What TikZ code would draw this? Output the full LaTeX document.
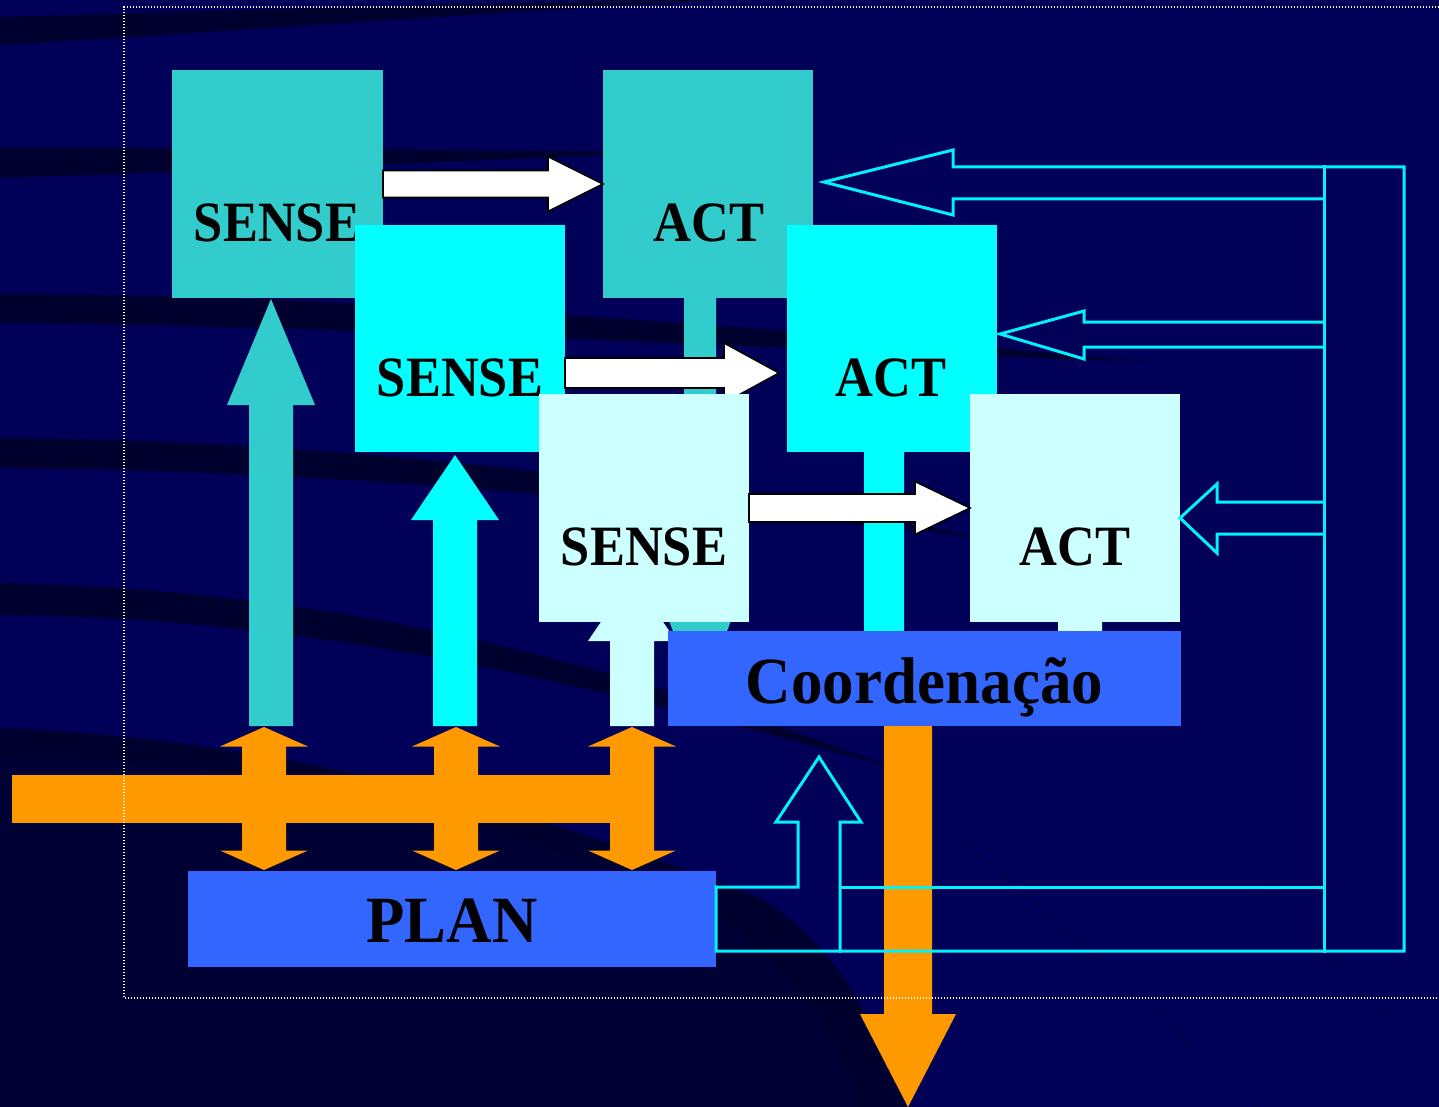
\documentclass[tikz,border=0pt]{standalone}
\usepackage{fontspec}
\setmainfont{Liberation Serif}
\usetikzlibrary{calc}

\definecolor{bgnavy}{RGB}{0,0,88}
\definecolor{streak}{RGB}{0,0,46}
\definecolor{deep}{RGB}{0,0,52}
\definecolor{tealbox}{HTML}{33CCCC}
\definecolor{cyanbox}{HTML}{00FFFF}
\definecolor{palebox}{HTML}{CCFFFF}
\definecolor{bluebox}{HTML}{3366FF}
\definecolor{orangebar}{HTML}{FF9900}
\definecolor{linkcyan}{HTML}{00F2FF}

% block arrows: [style]{start}{tip}{shaft half width}{head half width}{head length}
\newcommand\rightblock[6][]{\path[#1] let \p1=(#2), \p2=(#3) in
  (\x1,\y2+#4) -- (\x2-#6,\y2+#4) -- (\x2-#6,\y2+#5) -- (\x2,\y2)
  -- (\x2-#6,\y2-#5) -- (\x2-#6,\y2-#4) -- (\x1,\y2-#4) -- cycle;}
\newcommand\upblock[6][]{\path[#1] let \p1=(#2), \p2=(#3) in
  (\x2-#4,\y1) -- (\x2-#4,\y2-#6) -- (\x2-#5,\y2-#6) -- (\x2,\y2)
  -- (\x2+#5,\y2-#6) -- (\x2+#4,\y2-#6) -- (\x2+#4,\y1) -- cycle;}
\newcommand\downblock[6][]{\path[#1] let \p1=(#2), \p2=(#3) in
  (\x2-#4,\y1) -- (\x2-#4,\y2+#6) -- (\x2-#5,\y2+#6) -- (\x2,\y2)
  -- (\x2+#5,\y2+#6) -- (\x2+#4,\y2+#6) -- (\x2+#4,\y1) -- cycle;}
% double-headed vertical block arrow: [style]{top tip}{bottom tip}{shaft half}{head half}{head length}
\newcommand\bothblock[6][]{\path[#1] let \p1=(#2), \p2=(#3) in
  (\x1,\y1) -- (\x1+#5,\y1-#6) -- (\x1+#4,\y1-#6) -- (\x1+#4,\y2+#6)
  -- (\x1+#5,\y2+#6) -- (\x1,\y2) -- (\x1-#5,\y2+#6) -- (\x1-#4,\y2+#6)
  -- (\x1-#4,\y1-#6) -- (\x1-#5,\y1-#6) -- cycle;}

\tikzset{
  block/.style={rectangle, inner sep=0pt, outer sep=0pt, draw=none},
  senseact/.style={block, minimum width=210pt, minimum height=228pt},
  lbl/.style={anchor=base, inner sep=0pt, text=black,
    font=\bfseries\fontsize{57}{57}\selectfont},
  biglbl/.style={anchor=base, inner sep=0pt, text=black,
    font=\bfseries\fontsize{66}{66}\selectfont},
  passarrow/.style={fill=white, draw=black, line width=1.6pt, line join=miter},
  feedback/.style={draw=linkcyan, line width=3pt, line join=miter, line cap=rect},
}

\begin{document}
\begin{tikzpicture}[x=1pt, y=-1pt]
\useasboundingbox (0,0) rectangle (1439,1107);

% background with dark swept streaks
\fill[bgnavy] (0,0) rectangle (1439,1107);
\fill[deep] (0,728) .. controls (250,740) and (500,800) .. (760,900)
  .. controls (850,960) and (880,1040) .. (905,1107) -- (0,1107) -- cycle;
\fill[streak] (0,17) .. controls (250,10) and (450,4) .. (660,0) -- (720,0)
  .. controls (500,12) and (250,30) .. (0,45) -- cycle;
\fill[streak] (0,148) .. controls (250,148) and (450,150) .. (680,152)
  .. controls (450,162) and (250,170) .. (0,178) -- cycle;
\fill[streak] (0,294) .. controls (300,294) and (700,320) .. (1150,362)
  .. controls (700,345) and (300,325) .. (0,323) -- cycle;
\fill[streak] (0,438) .. controls (300,440) and (600,470) .. (1000,540)
  .. controls (600,495) and (300,470) .. (0,468) -- cycle;
\fill[streak] (0,583) .. controls (300,590) and (550,640) .. (900,770)
  .. controls (550,672) and (300,618) .. (0,615) -- cycle;
\fill[streak] (0,728) .. controls (250,738) and (500,795) .. (760,898)
  .. controls (850,955) and (880,1040) .. (905,1107) -- (860,1107)
  .. controls (840,1040) and (800,960) .. (700,905)
  .. controls (480,815) and (250,760) .. (0,757) -- cycle;
\draw[streak, line width=1.5pt, opacity=0.35] (960,840) .. controls (1060,920) and (1140,1000) .. (1256,1107);
\draw[streak, line width=1.5pt, opacity=0.3] (1250,880) .. controls (1330,950) and (1390,1020) .. (1439,1080);

% coordinates of the block-arrow ends
\coordinate (tstemTip) at (700,703);
\coordinate (cstemTip) at (884,700);
\coordinate (pstemTip) at (1080,700);
\coordinate (upTbase) at (271,726);
\coordinate (upTtip) at (271,299);
\coordinate (upCbase) at (455,726);
\coordinate (upCtip) at (455,455);
\coordinate (upPbase) at (632,726);
\coordinate (upPtip) at (632,576);

% stems from the ACT blocks down to the coordinator
\downblock[fill=tealbox]{700,298}{tstemTip}{16pt}{44pt}{117pt}
\downblock[fill=cyanbox]{884,452}{cstemTip}{20pt}{44pt}{60pt}
\downblock[fill=palebox]{1080,622}{pstemTip}{22pt}{44pt}{60pt}

% arrows from the bus up to the SENSE blocks
\upblock[fill=tealbox]{upTbase}{upTtip}{22pt}{44pt}{106pt}
\upblock[fill=cyanbox]{upCbase}{upCtip}{22pt}{44pt}{65pt}
\upblock[fill=palebox]{upPbase}{upPtip}{22pt}{44pt}{65pt}

% SENSE / ACT layers, back to front
\node[senseact, fill=tealbox, minimum width=211pt] (sense1) at (277.5,184) {};
\node[lbl] (sense1t) at (277,241) {\scalebox{0.92}[1]{SENSE}};
\node[senseact, fill=tealbox] (act1) at (708,184) {};
\node[lbl] (act1t) at (709,241) {\scalebox{0.92}[1]{ACT}};
\rightblock[passarrow]{sense1.east}{act1.west}{13.5pt}{27.5pt}{55pt}

\node[senseact, fill=cyanbox, minimum height=227pt] (sense2) at (460,338.5) {};
\node[lbl] (sense2t) at (460,396) {\scalebox{0.92}[1]{SENSE}};
\node[senseact, fill=cyanbox, minimum height=227pt] (act2) at (892,338.5) {};
\node[lbl] (act2t) at (891,396) {\scalebox{0.92}[1]{ACT}};
\coordinate (w2s) at (sense2.east |- 0,373);
\coordinate (w2e) at (779,373);
\rightblock[passarrow]{w2s}{w2e}{15pt}{30pt}{55pt}

\node[senseact, fill=palebox] (sense3) at (644,508) {};
\node[lbl] (sense3t) at (644,565) {\scalebox{0.92}[1]{SENSE}};
\node[senseact, fill=palebox] (act3) at (1075,508) {};
\node[lbl] (act3t) at (1075,565) {\scalebox{0.92}[1]{ACT}};
\rightblock[passarrow]{sense3.east}{act3.west}{14pt}{26.5pt}{55pt}

% orange bus and its links to PLAN
\fill[orangebar] (12,775) rectangle (654,823);
\coordinate (b1t) at (264,727); \coordinate (b1b) at (264,870);
\coordinate (b2t) at (456,727); \coordinate (b2b) at (456,870);
\coordinate (b3t) at (632,727); \coordinate (b3b) at (632,870);
\bothblock[fill=orangebar]{b1t}{b1b}{22pt}{44pt}{19.5pt}
\bothblock[fill=orangebar]{b2t}{b2b}{22pt}{44pt}{19.5pt}
\bothblock[fill=orangebar]{b3t}{b3b}{22pt}{44pt}{19.5pt}

% coordinator with its output arrow
\node[block, fill=bluebox, minimum width=513pt, minimum height=95pt] (coord) at (924.5,678.5) {};
\node[biglbl] (coordt) at (924.5,703) {\scalebox{0.955}[1]{Coordenação}};
\coordinate (outTip) at (908,1107);
\downblock[fill=orangebar]{coord.south -| outTip}{outTip}{24pt}{48pt}{93pt}

% planner
\node[block, fill=bluebox, minimum width=528pt, minimum height=96pt] (plan) at (452,919) {};
\node[biglbl] (plant) at (452,942) {\scalebox{0.95}[1]{PLAN}};

% feedback outline from PLAN back to the ACT blocks
\coordinate (fbA) at (824,182);
\coordinate (fbB) at (1000,334);
\coordinate (fbC) at (1180,518);
\coordinate (fbU) at (819,757);
\draw[feedback] (plan.east |- 0,887) -- (798,887) -- (798,822) -- (776,822) -- (fbU)
  -- (861,822) -- (840,822) -- (840,951);
\draw[feedback] (plan.east |- 0,887) -- (716,951) -- (1404,951) -- (1404,167) -- (953,167)
  -- (953,150) -- (fbA) -- (953,215) -- (953,199) -- (1324,199);
\draw[feedback] (1324,167) -- (1324,951);
\draw[feedback] (840,887) -- (1324,887);
\draw[feedback] (1324,322) -- (1084,322) -- (1084,311) -- (fbB) -- (1084,359)
  -- (1084,347) -- (1324,347);
\draw[feedback] (1324,502) -- (1217,502) -- (1217,484) -- (fbC) -- (1217,553)
  -- (1217,534) -- (1324,534);

% dotted frame
\draw[white, line width=1.3pt, dash pattern=on 1.3pt off 1.7pt]
  (1439,7) -- (124,7) -- (124,998) -- (1439,998);
\end{tikzpicture}
\end{document}
